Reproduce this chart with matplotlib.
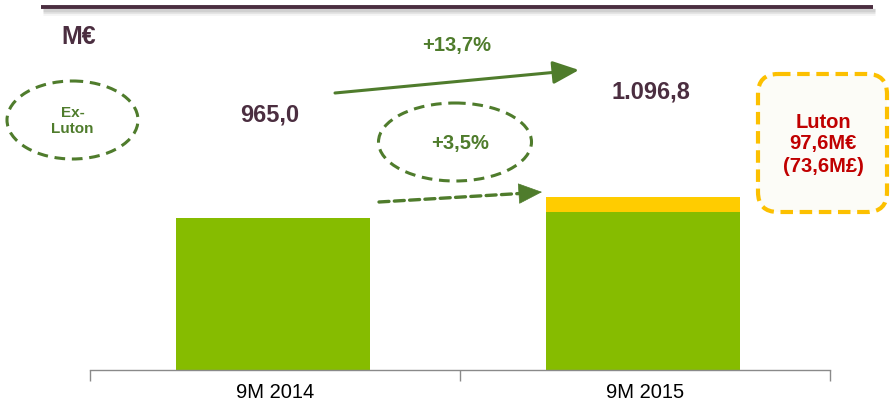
import matplotlib
matplotlib.use("Agg")
import matplotlib.pyplot as plt
from matplotlib.patches import Ellipse, FancyBboxPatch, FancyArrowPatch

# ---- data ----
categories = ["9M 2014", "9M 2015"]
ex_luton = [965.0, 999.2]
luton = [0.0, 97.6]
totals = [965.0, 1096.8]
total_labels = ["965,0", "1.096,8"]
growth_total = "+13,7%"
growth_exluton = "+3,5%"
luton_text = "Luton\n97,6M€\n(73,6M£)"
unit = "M€"

GREEN = "#86bc00"
YELLOW = "#ffcc00"
DARKGREEN = "#4f7c2c"
PURPLE = "#4b2e40"
RED = "#c00000"

plt.rcParams["font.family"] = ["Liberation Sans", "DejaVu Sans"]

W, H = 894, 404
fig = plt.figure(figsize=(W / 100, H / 100), dpi=100)

# bar axes: baseline at y=370px, x from 90 to 830 px
px_per_unit = 152.5 / 965.0
ax = fig.add_axes([90 / W, (H - 370) / H, 740 / W, 370 / H])
xs = list(range(len(categories)))
ax.bar([x - 0.005 for x in xs], ex_luton, width=0.525, color=GREEN, zorder=2)
ax.bar([x - 0.005 for x in xs], luton, bottom=ex_luton, width=0.525, color=YELLOW, zorder=2)
ax.set_xlim(-0.5, 1.5)
ax.set_ylim(0, 370 / px_per_unit)
for s in ["top", "right", "left"]:
    ax.spines[s].set_visible(False)
ax.spines["bottom"].set_color("#8a8a8a")
ax.spines["bottom"].set_linewidth(1.0)
ax.set_yticks([])
ax.set_xticks([-0.5, 0.5, 1.5])
ax.set_xticklabels([])
ax.tick_params(axis="x", length=8, color="#8a8a8a", width=1.0, direction="out")
for x, lab in zip(xs, categories):
    ax.text(x, -22 / 370, lab, transform=ax.get_xaxis_transform(), ha="center", va="center",
            fontsize=14.5, color="#000000")
ax.patch.set_alpha(0)

# overlay axes in pixel coordinates for annotations
ov = fig.add_axes([0, 0, 1, 1])
ov.set_xlim(0, W)
ov.set_ylim(H, 0)
ov.axis("off")
ov.patch.set_alpha(0)

# top rule with soft shadow
for off, a, lw in [(4.5, 0.10, 5), (3.5, 0.18, 3.5), (2.5, 0.25, 2.5)]:
    ov.plot([43, 875], [7 + off, 7 + off], color="#999999", lw=lw, alpha=a,
            solid_capstyle="butt")
ov.plot([41, 873], [7, 7], color=PURPLE, lw=2.8, solid_capstyle="butt")

ov.text(61, 37, unit, fontsize=18, fontweight="bold", color=PURPLE, ha="left", va="center")

# Ex-Luton ellipse
ov.add_patch(Ellipse((72.5, 120), 131, 78, fill=False, ec=DARKGREEN, lw=2.2, ls=(0, (3.5, 2.2))))
ov.text(72.5, 121, "Ex-\nLuton", fontsize=11, fontweight="bold", color=DARKGREEN,
        ha="center", va="center", linespacing=1.2)

# value labels
ov.text(270, 115, total_labels[0], fontsize=17, fontweight="bold", color=PURPLE,
        ha="center", va="center")
ov.text(651, 92, total_labels[1], fontsize=17, fontweight="bold", color=PURPLE,
        ha="center", va="center")

# +13,7% arrow
ov.text(457, 46, growth_total, fontsize=14.5, fontweight="bold", color=DARKGREEN,
        ha="center", va="center")
ov.add_patch(FancyArrowPatch((335, 93), (579, 70), arrowstyle="-|>,head_length=16,head_width=7",
                             color=DARKGREEN, lw=2.2, mutation_scale=1, shrinkA=0, shrinkB=0))

# +3,5% ellipse and dashed arrow
ov.add_patch(Ellipse((455, 142), 153, 78, fill=False, ec=DARKGREEN, lw=2.2, ls=(0, (3.5, 2.2))))
ov.text(460, 144, growth_exluton, fontsize=14.5, fontweight="bold", color=DARKGREEN,
        ha="center", va="center")
ov.add_patch(FancyArrowPatch((379, 202), (528, 193), arrowstyle="-",
                             color=DARKGREEN, lw=2.4, ls=(0, (3, 1.6)), shrinkA=0, shrinkB=0))
ov.add_patch(FancyArrowPatch((526, 193.1), (542, 192), arrowstyle="-|>,head_length=16,head_width=7",
                             color=DARKGREEN, lw=0.5, mutation_scale=1, shrinkA=0, shrinkB=0))

# Luton box
ov.add_patch(FancyBboxPatch((758, 74), 129, 138, boxstyle="round,pad=0,rounding_size=20",
                            fill=True, fc="#fcfcf7", ec="#fcc000", lw=3, ls=(0, (3, 1.6))))
ov.text(823, 144, luton_text, fontsize=14.5, fontweight="bold", color=RED,
        ha="center", va="center", linespacing=1.2)

fig.savefig("out.png", dpi=100)
